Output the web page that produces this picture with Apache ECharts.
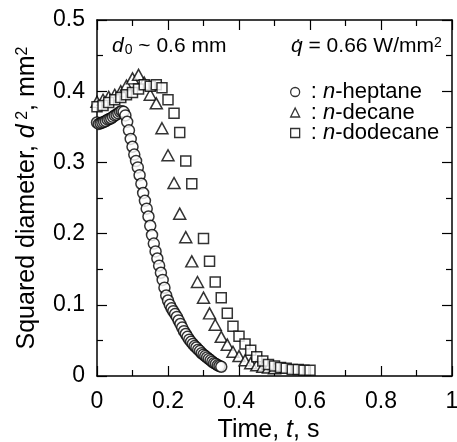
<!DOCTYPE html>
<html><head><meta charset="utf-8">
<script src="https://cdn.jsdelivr.net/npm/echarts@6/dist/echarts.min.js"></script>
<style>html,body{margin:0;padding:0;background:#fff}#c{width:457px;height:442px}</style>
</head><body><div id="c"></div>
<script>
const FONT = "'Liberation Sans', Arial, sans-serif";

// n-heptane (circles)
const tHeptane = [0.000,0.005,0.010,0.015,0.020,0.025,0.030,0.035,0.040,0.045,0.050,0.055,0.060,0.065,0.070,0.075,0.080,0.085,0.090,0.095,0.100,0.105,0.110,0.115,0.120,0.125,0.130,0.135,0.140,0.145,0.150,0.155,0.160,0.165,0.170,0.175,0.180,0.185,0.190,0.195,0.200,0.205,0.210,0.215,0.220,0.225,0.230,0.235,0.240,0.245,0.250,0.255,0.260,0.265,0.270,0.275,0.280,0.285,0.290,0.295,0.300,0.305,0.310,0.315,0.320,0.325,0.330,0.335,0.340,0.345,0.350];
const dHeptane = [0.356,0.354,0.355,0.356,0.357,0.358,0.360,0.361,0.362,0.364,0.366,0.367,0.369,0.371,0.372,0.371,0.366,0.357,0.345,0.333,0.322,0.311,0.302,0.293,0.282,0.270,0.257,0.246,0.235,0.224,0.211,0.198,0.186,0.175,0.165,0.155,0.145,0.135,0.124,0.113,0.106,0.100,0.095,0.091,0.087,0.083,0.078,0.073,0.068,0.063,0.059,0.055,0.051,0.048,0.045,0.042,0.040,0.037,0.035,0.032,0.030,0.028,0.026,0.024,0.022,0.020,0.018,0.017,0.015,0.014,0.013];

// n-decane (triangles)
const tDecane = [0,0.017,0.033,0.05,0.067,0.083,0.1,0.117,0.133,0.15,0.167,0.183,0.2,0.217,0.233,0.25,0.267,0.283,0.3,0.317,0.333,0.35,0.367,0.383,0.4,0.417,0.433,0.45,0.467,0.483,0.5];
const dDecane = [0.385,0.388,0.392,0.395,0.400,0.408,0.418,0.423,0.412,0.395,0.383,0.348,0.310,0.271,0.228,0.195,0.161,0.132,0.110,0.088,0.072,0.055,0.044,0.034,0.028,0.022,0.018,0.015,0.013,0.012,0.011];

// n-dodecane (squares)
const tDodecane = [0,0.017,0.033,0.05,0.067,0.083,0.1,0.117,0.133,0.15,0.167,0.183,0.2,0.217,0.233,0.25,0.267,0.3,0.317,0.333,0.35,0.367,0.383,0.4,0.417,0.433,0.45,0.467,0.483,0.5,0.517,0.533,0.55,0.567,0.583,0.6];
const dDodecane = [0.378,0.380,0.384,0.388,0.391,0.395,0.398,0.403,0.409,0.407,0.409,0.405,0.388,0.369,0.342,0.302,0.270,0.193,0.161,0.132,0.110,0.088,0.070,0.056,0.045,0.036,0.027,0.021,0.016,0.014,0.012,0.011,0.009,0.009,0.008,0.008];

const seriesNames = ['n-heptane','n-decane','n-dodecane'];
const seriesSymbols = ['circle','triangle','rect'];

const zip = (a,b) => a.map((v,i)=>[v,b[i]]);
const markStyle = {color:'#fff', borderColor:'#000', borderWidth:1.5};

const axisCommon = {
  type:'value',
  axisLine:{show:true, onZero:false, lineStyle:{color:'#000', width:1.5}},
  axisTick:{show:true, inside:true, length:10, lineStyle:{color:'#000', width:1.2}},
  minorTick:{show:true, splitNumber:2, length:6, lineStyle:{color:'#000', width:1.2}},
  splitLine:{show:false}, minorSplitLine:{show:false}
};
const labelStyle = {fontSize:23, color:'#000', fontFamily:FONT};
const nameStyle = {fontSize:25, color:'#000', fontFamily:FONT,
  rich:{n:{fontSize:25, fontFamily:FONT, color:'#000'},
        i:{fontSize:25, fontFamily:FONT, fontStyle:'italic', color:'#000'},
        sup:{fontSize:16, fontFamily:FONT, color:'#000', verticalAlign:'top'}}};

const chart = echarts.init(document.getElementById('c'), null, {renderer:'canvas'});
chart.setOption({
  animation:false,
  backgroundColor:'#fff',
  grid:{left:97, right:5, top:20, bottom:66, containLabel:false, outerBoundsMode:'none'},
  xAxis:[
    Object.assign({}, axisCommon, {min:0, max:1, interval:0.2, position:'bottom',
      axisLabel:Object.assign({margin:14}, labelStyle),
      name:'{n|Time, }{i|t}{n|, s}', nameLocation:'middle', nameGap:36, nameTextStyle:Object.assign({padding:[0,12,0,0]}, nameStyle)}),
    Object.assign({}, axisCommon, {min:0, max:1, interval:0.2, position:'top', axisLabel:{show:false}})
  ],
  yAxis:[
    Object.assign({}, axisCommon, {min:0, max:0.5, interval:0.1, position:'left',
      axisLabel:Object.assign({margin:12}, labelStyle),
      name:'{n|Squared diameter, }{i|d}{sup| 2}{n|, mm}{sup|2}', nameLocation:'middle', nameRotate:90, nameGap:57, nameTextStyle:nameStyle}),
    Object.assign({}, axisCommon, {min:0, max:0.5, interval:0.1, position:'right', axisLabel:{show:false}})
  ],
  legend:{
    data:seriesNames, orient:'vertical', left:285, top:76, itemWidth:9, itemHeight:9, itemGap:-1.5,
    itemStyle:{color:'#fff', borderColor:'#000', borderWidth:1.3},
    formatter:(name)=>' : {i|n}' + name.slice(1),
    textStyle:{fontSize:22, fontFamily:FONT, color:'#000', lineHeight:18,
      rich:{i:{fontSize:22, fontFamily:FONT, fontStyle:'italic', color:'#000', lineHeight:18}}}
  },
  graphic:[
    {type:'text', left:112, top:36, silent:true, style:{
      text:'{i|d}{sub|0}{n| ~ 0.6 mm}',
      rich:{n:{fontSize:21, fontFamily:FONT, fill:'#000'},
            i:{fontSize:21, fontFamily:FONT, fontStyle:'italic', fill:'#000'},
            sub:{fontSize:14, fontFamily:FONT, fill:'#000', verticalAlign:'bottom', padding:[0,0,0,1]}}}},
    {type:'text', left:291, top:36, silent:true, style:{
      text:'{i|q\u0307}{n| = 0.66 W/mm}{sup|2}',
      rich:{n:{fontSize:21, fontFamily:FONT, fill:'#000'},
            i:{fontSize:21, fontFamily:FONT, fontStyle:'italic', fill:'#000'},
            sup:{fontSize:14, fontFamily:FONT, fill:'#000', verticalAlign:'top'}}}}
  ],
  series:[
    {name:seriesNames[0], type:'scatter', symbol:seriesSymbols[0], symbolSize:11, data:zip(tHeptane,dHeptane), itemStyle:markStyle, emphasis:{disabled:true}},
    {name:seriesNames[1], type:'scatter', symbol:seriesSymbols[1], symbolSize:[12,11], data:zip(tDecane,dDecane), itemStyle:markStyle, emphasis:{disabled:true}},
    {name:seriesNames[2], type:'scatter', symbol:seriesSymbols[2], symbolSize:10, data:zip(tDodecane,dDodecane), itemStyle:markStyle, emphasis:{disabled:true}}
  ]
});
</script></body></html>
